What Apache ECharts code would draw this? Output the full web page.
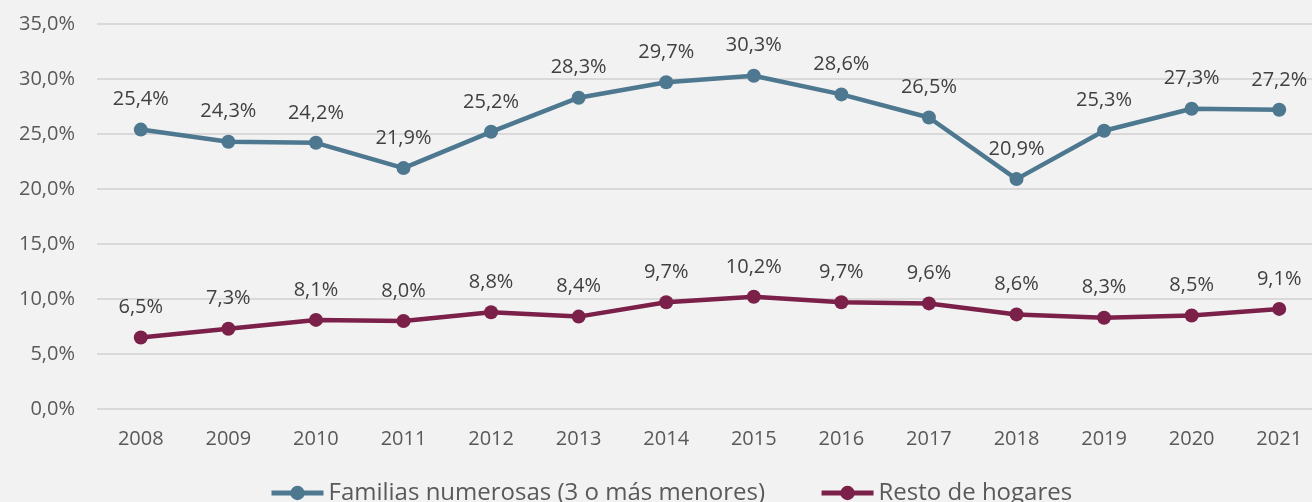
<!DOCTYPE html>
<html><head><meta charset="utf-8">
<script src="https://cdn.jsdelivr.net/npm/echarts@6/dist/echarts.min.js"></script>
<style>html,body{margin:0;padding:0;background:#f2f2f2;}#c{width:1312px;height:502px;}</style>
</head><body><div id="c"></div>
<script>
const years = ['2008','2009','2010','2011','2012','2013','2014','2015','2016','2017','2018','2019','2020','2021'];
const familiasNumerosas = [25.4,24.3,24.2,21.9,25.2,28.3,29.7,30.3,28.6,26.5,20.9,25.3,27.3,27.2];
const restoHogares = [6.5,7.3,8.1,8.0,8.8,8.4,9.7,10.2,9.7,9.6,8.6,8.3,8.5,9.1];
const seriesNames = ['Familias numerosas (3 o más menores)','Resto de hogares'];
const fmt = v => v.toFixed(1).replace('.', ',') + '%';
const font = '"Open Sans", sans-serif';
const chart = echarts.init(document.getElementById('c'));
const mk = (name, data, color) => ({
  name, type:'line', data, color,
  symbol:'circle', symbolSize:14,
  lineStyle:{width:4.5,color},
  itemStyle:{color},
  label:{show:true,position:'top',distance:13,formatter:p=>fmt(p.value),
    fontSize:20,color:'#404040',fontFamily:font},
  animation:false
});
chart.setOption({
  backgroundColor:'#f2f2f2',
  grid:{left:97,width:1226,top:24,height:385,outerBoundsMode:'none',containLabel:false},
  xAxis:{type:'category',data:years,boundaryGap:true,
    axisLine:{show:false},axisTick:{show:false},
    axisLabel:{fontSize:20,color:'#595959',fontFamily:font,margin:20}},
  yAxis:{type:'value',min:0,max:35,interval:5,
    axisLabel:{formatter:v=>fmt(v),fontSize:20,color:'#595959',fontFamily:font,margin:22},
    splitLine:{lineStyle:{color:'#d9d9d9',width:2}}},
  legend:{bottom:-8,left:264,itemWidth:52,itemHeight:18,itemGap:54,
    lineStyle:{width:5},
    textStyle:{fontSize:24,color:'#595959',fontFamily:font}},
  series:[mk(seriesNames[0],familiasNumerosas,'#4e7890'),mk(seriesNames[1],restoHogares,'#7b2049')]
});
</script></body></html>
